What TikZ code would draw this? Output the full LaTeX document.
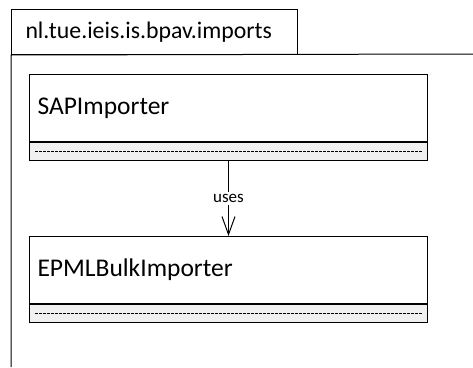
\documentclass[tikz,border=0pt]{standalone}
\usepackage{fontspec}
\setmainfont{Carlito}
\usetikzlibrary{arrows.meta}

\begin{document}
\begin{tikzpicture}[x=1pt,y=-1pt,
	pkgtab/.style={shape=rectangle,draw=black,line width=1pt,anchor=north west,minimum width=286pt,minimum height=45pt,inner xsep=14pt,text width=258pt,align=left,font=\fontsize{23.8}{28}\selectfont},
	classname/.style={shape=rectangle,draw=black,line width=1pt,anchor=north west,minimum height=67pt,inner xsep=8pt,text width=382pt,align=left,font=\fontsize{25.5}{30}\selectfont},
	classops/.style={shape=rectangle,draw=black,line width=1pt,fill=black!6,anchor=north west,minimum width=398pt,minimum height=18pt,inner sep=0pt},
	opsline/.style={line width=0.8pt,dash pattern=on 2.5pt off 1.5pt},
	uses/.style={-{Straight Barb[length=18pt,width=13pt]},line width=1pt}]
	
	\useasboundingbox (0,0) rectangle (473,367);
	
	% package frame
	\node[pkgtab] (tab) at (11, 9) {nl.tue.ieis.is.bpav.imports};
	\coordinate (pkgend) at (473, 54);
	\coordinate (pkgfoot) at (11, 367);
	\draw[line width=1pt] (pkgfoot) -- (tab.south west) -- (pkgend);
	
	% classes
	\node[classname] (sap) at (29, 74) {SAPImporter};
	\node[classops] (sapops) at (sap.south west) {};
	\node[classname] (epml) at (29, 236) {EPMLBulkImporter};
	\node[classops] (epmlops) at (epml.south west) {};
	
	\draw[opsline] ([xshift=6pt]sapops.west) -- ([xshift=-6pt]sapops.east);
	\draw[opsline] ([xshift=6pt]epmlops.west) -- ([xshift=-6pt]epmlops.east);
	
	\path[uses] (sapops.south) edge node[fill=white,inner sep=2pt,font=\fontsize{17}{20}\selectfont] {uses} (epml.north);
	
\end{tikzpicture}
\end{document}
